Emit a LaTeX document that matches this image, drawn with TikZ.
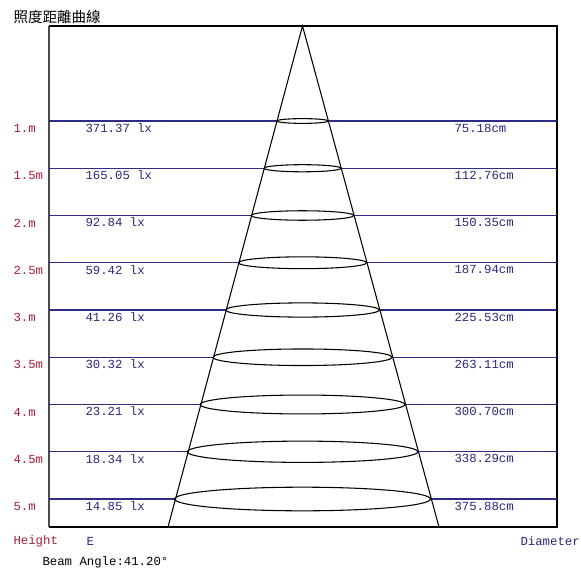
\documentclass[tikz,border=0pt]{standalone}
\usepackage{fontspec}
\setmonofont{Liberation Mono}
\newfontfamily\cjkfont{Noto Sans CJK TC}
\definecolor{hgtred}{RGB}{165,30,55}
\definecolor{luxblue}{RGB}{40,40,125}
\definecolor{rowline}{RGB}{45,45,135}
\tikzset{
  lbl/.style={anchor=west, inner sep=0pt, font=\ttfamily\fontsize{9.25}{10}\selectfont},
}
\begin{document}
\begin{tikzpicture}[x=0.75pt,y=-0.75pt,line width=0.8pt]
  \useasboundingbox (0,0) rectangle (581,570);
  \node [anchor=west, inner sep=0pt, font=\cjkfont\fontsize{10.9}{12}\selectfont] (title) at (13,17) {照度距離曲線};
  \coordinate (apex) at (302.5,26);
  \coordinate (baseL) at (168,527);
  \coordinate (baseR) at (439,527);
  \coordinate (tl) at (49,26);
  \coordinate (tr) at (557,26);
  \coordinate (bl) at (49,527);
  \coordinate (br) at (557,527);
  \draw [black!70, line width=1.2pt] (tl) -- (bl);
  \draw (tl) -- (tr) -- (br) -- (bl);
  \foreach \h/\e/\d [count=\i from 0] in {1.m/371.37/75.18, 1.5m/165.05/112.76, 2.m/92.84/150.35,
    2.5m/59.42/187.94, 3.m/41.26/225.53, 3.5m/30.32/263.11, 4.m/23.21/300.70,
    4.5m/18.34/338.29, 5.m/14.85/375.88}
  {
    \pgfmathsetmacro{\yy}{121+47.25*\i}
    \pgfmathsetmacro{\rx}{0.2705*(\yy-26)}
    \pgfmathsetmacro{\ry}{0.025*(\yy-26)}
    \coordinate (l\i) at (49,\yy);
    \coordinate (r\i) at (557,\yy);
    \coordinate (cl\i) at (302.5-\rx,\yy);
    \coordinate (cr\i) at (302.5+\rx,\yy);
    \draw [rowline] (l\i) -- (cl\i);
    \draw [rowline] (cr\i) -- (r\i);
    \draw (302.5,\yy) ellipse [x radius=\rx*0.75pt, y radius=\ry*0.75pt];
    \node [lbl, text=hgtred] (h\i) at (13,\yy+7.5) {\h};
    \node [lbl, text=luxblue] (e\i) at (85,\yy+7) {\e\ lx};
    \node [lbl, text=luxblue] (d\i) at (454,\yy+7) {\d cm};
  }
  \draw (baseL) -- (apex) -- (baseR);
  \node [lbl, text=hgtred] (height) at (13,541) {Height};
  \node [lbl, text=luxblue] (lux) at (86,541) {E};
  \node [lbl, text=luxblue] (diam) at (520,541) {Diameter};
  \node [lbl] (beam) at (42,562) {Beam Angle:41.20°};
\end{tikzpicture}
\end{document}
